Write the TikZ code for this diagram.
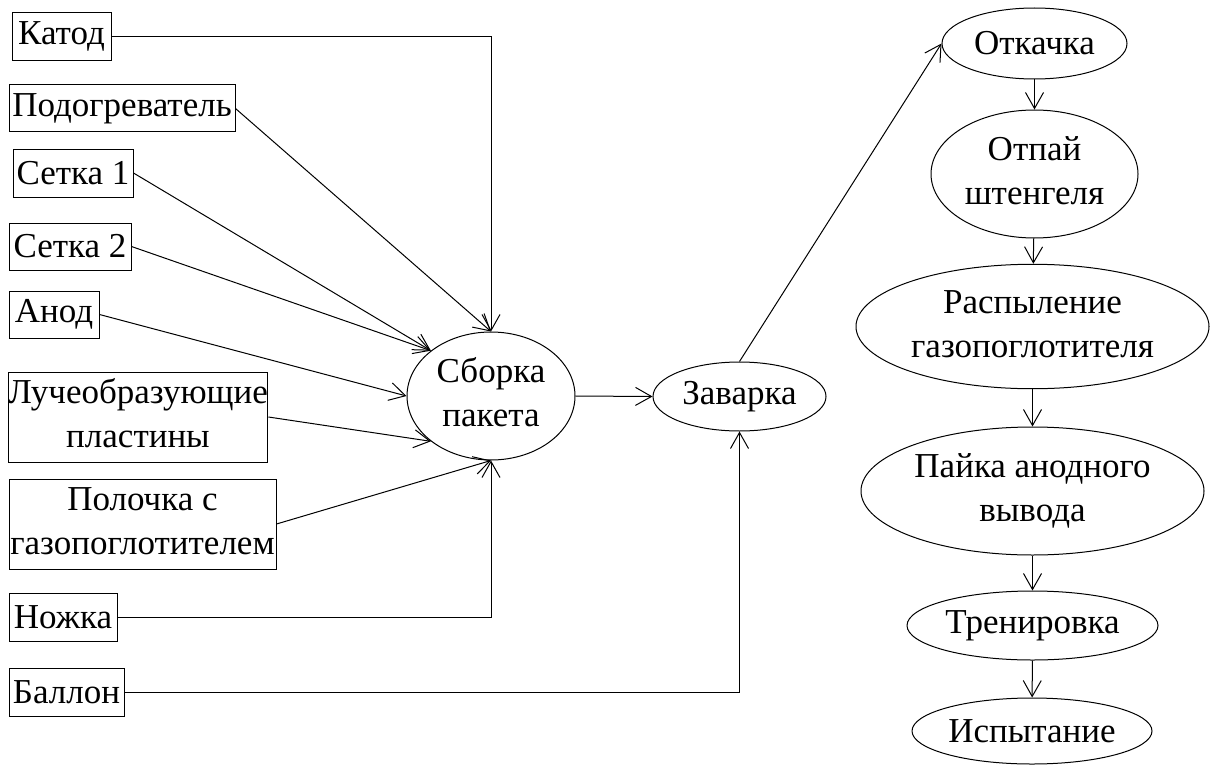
\documentclass[tikz,border=0pt]{standalone}
\usepackage{fontspec}
\newfontfamily\tnr{LiberationSerif-Regular.ttf}
\newcommand\lbl[1]{{\tnr\fontsize{35}{44}\selectfont #1}}
\newcommand\twol[2]{{\tnr\fontsize{35}{44}\selectfont\begin{tabular}{@{}c@{}}#1\\#2\end{tabular}}}
\usetikzlibrary{shapes.geometric,arrows.meta}
\begin{document}
\begin{tikzpicture}[x=1pt,y=-1pt,
  every node/.style={inner sep=0pt},
  box/.style={draw, line width=1pt, rectangle},
  oval/.style={draw, line width=1pt, ellipse},
  conn/.style={line width=1pt, -{Straight Barb[length=16pt,width=18pt,line width=1pt]}}]
\useasboundingbox (0,0) rectangle (1212,765);
% left boxes
\node[box, minimum width=99pt, minimum height=48pt] (katod) at (61.5,36.5) {\lbl{Катод}};
\node[box, minimum width=226pt, minimum height=47pt] (podog) at (122,108.5) {\lbl{Подогреватель}};
\node[box, minimum width=120pt, minimum height=48pt] (setka1) at (73,173) {\lbl{Сетка 1}};
\node[box, minimum width=122pt, minimum height=47pt] (setka2) at (70,246.5) {\lbl{Сетка 2}};
\node[box, minimum width=90pt, minimum height=47pt] (anod) at (54,314.5) {\lbl{Анод}};
\node[box, minimum width=258pt, minimum height=90pt] (luch) at (138,417) {\twol{Лучеобразующие}{пластины}};
\node[box, minimum width=267pt, minimum height=90pt] (poloch) at (142.5,524) {\twol{Полочка с}{газопоглотителем}};
\node[box, minimum width=108pt, minimum height=48pt] (nozhka) at (63,617) {\lbl{Ножка}};
\node[box, minimum width=115pt, minimum height=48pt] (ballon) at (66.5,692) {\lbl{Баллон}};
% middle
\node[oval, minimum width=168pt, minimum height=128pt] (sborka) at (491,396) {\twol{Сборка}{пакета}};
\node[oval, minimum width=173pt, minimum height=69pt] (zavarka) at (739.5,396.5) {\lbl{Заварка}};
% right column
\node[oval, minimum width=185pt, minimum height=71pt] (otkachka) at (1034.5,43.5) {\lbl{Откачка}};
\node[oval, minimum width=207pt, minimum height=128pt] (otpai) at (1034.5,174) {\twol{Отпай}{штенгеля}};
\node[oval, minimum width=353pt, minimum height=123pt] (raspyl) at (1032.5,326.5) {\twol{Распыление}{газопоглотителя}};
\node[oval, minimum width=343pt, minimum height=128pt] (paika) at (1032.5,491) {\twol{Пайка анодного}{вывода}};
\node[oval, minimum width=251pt, minimum height=69pt] (trenir) at (1032.5,625.5) {\lbl{Тренировка}};
\node[oval, minimum width=240pt, minimum height=66pt] (ispyt) at (1032,731) {\lbl{Испытание}};
% connectors into Сборка
\draw[conn] (katod.east) -| (sborka.north);
\draw[conn] (podog.east) -- (sborka.north);
\draw[conn] (setka1.east) -- (sborka.143);
\draw[conn] (setka2.east) -- (sborka.143);
\draw[conn] (anod.east) -- (sborka.west);
\draw[conn] (luch.east) -- (sborka.217);
\draw[conn] (poloch.east) -- (sborka.south);
\draw[conn] (nozhka.east) -| (sborka.south);
% Сборка -> Заварка
\draw[conn] (sborka.east) -- (zavarka.west);
\draw[conn] (ballon.east) -| (zavarka.south);
\draw[conn] (zavarka.north) -- (otkachka.west);
% right chain
\draw[conn] (otkachka) -- (otpai);
\draw[conn] (otpai) -- (raspyl);
\draw[conn] (raspyl) -- (paika);
\draw[conn] (paika) -- (trenir);
\draw[conn] (trenir) -- (ispyt);
\end{tikzpicture}
\end{document}
